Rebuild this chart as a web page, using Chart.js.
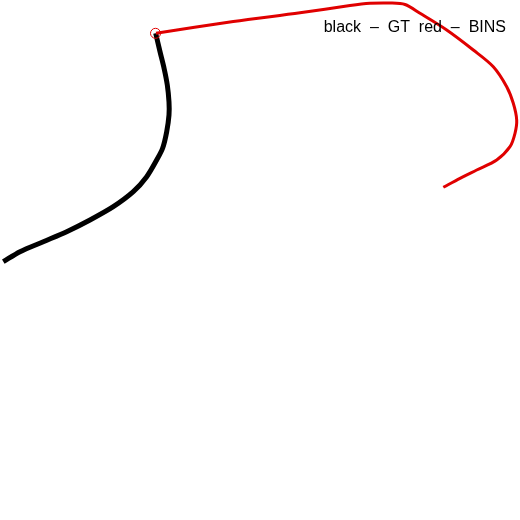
<!DOCTYPE html>
<html>
<head>
<meta charset="utf-8">
<script src="https://cdn.jsdelivr.net/npm/chart.js@4/dist/chart.umd.min.js"></script>
<style>
html,body{margin:0;padding:0;background:#fff;}
#wrap{width:520px;height:520px;}
</style>
</head>
<body>
<div id="wrap"><canvas id="c" width="520" height="520"></canvas></div>
<script>
// Ground-truth trajectory (black)
const gtX = [3.3, 20, 43.3, 66.7, 90, 113.3, 133.3, 146.7, 156.7, 162.7, 166.7, 169, 169, 167.3, 164, 160, 155.7];
const gtY = [261.7, 251.7, 241.7, 231.7, 220, 206.7, 191.7, 176.7, 160, 148, 131.7, 115, 102, 85, 68, 51.7, 33.3];
// BINS trajectory (red)
const binsX = [156, 233.3, 300, 350, 370, 390, 405, 420, 446.7, 473.3, 493.3, 506.7, 513.3, 516.7, 515, 510, 496.7, 476.7, 460, 443.3];
const binsY = [33.3, 21.5, 12.8, 5.5, 3.3, 3, 4.5, 13.3, 30, 50, 66.7, 86.7, 103.3, 120, 133.3, 146.7, 160, 170, 178.3, 187.3];
// start marker
const startX = [155.5];
const startY = [33.3];
const label = 'black  \u2013  GT  red  \u2013  BINS';

const toPts = (xs, ys) => xs.map((x, i) => ({x: x, y: ys[i]}));

const textPlugin = {
  id: 'caption',
  afterDraw(chart) {
    const ctx = chart.ctx;
    ctx.save();
    ctx.font = '16px "Liberation Sans", Arial, sans-serif';
    ctx.fillStyle = '#000';
    ctx.textAlign = 'right';
    ctx.textBaseline = 'alphabetic';
    ctx.fillText(label, 506, 32);
    ctx.restore();
  }
};

new Chart(document.getElementById('c'), {
  type: 'scatter',
  data: {
    datasets: [
      {data: toPts(gtX, gtY), showLine: true, borderColor: '#000', borderWidth: 5, pointRadius: 0, tension: 0.3, fill: false, order: 2},
      {data: toPts(binsX, binsY), showLine: true, borderColor: '#e00000', borderWidth: 3, pointRadius: 0, tension: 0.3, fill: false, order: 1},
      {data: toPts(startX, startY), showLine: false, pointRadius: 5, borderColor: '#e00000', backgroundColor: 'rgba(0,0,0,0)', pointBorderWidth: 1, order: 0}
    ]
  },
  options: {
    responsive: false,
    animation: false,
    layout: {padding: 0, autoPadding: false},
    plugins: {legend: {display: false}, tooltip: {enabled: false}},
    scales: {
      x: {type: 'linear', min: 0, max: 520, display: false},
      y: {type: 'linear', min: 0, max: 520, reverse: true, display: false}
    }
  },
  plugins: [textPlugin]
});
</script>
</body>
</html>
